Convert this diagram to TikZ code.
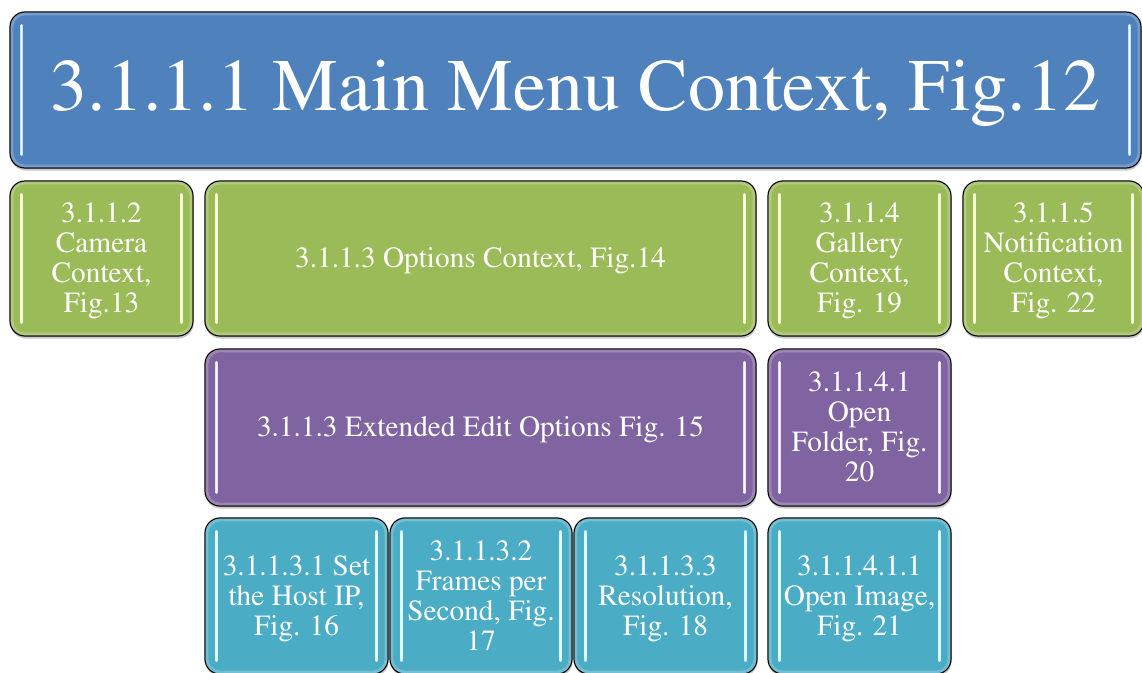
\documentclass[tikz,border=0pt]{standalone}
\usepackage[T1]{fontenc}
\usepackage{times}
\usetikzlibrary{shadows}

% fills and their edge highlights
\definecolor{tblue}{HTML}{4F81BD}
\definecolor{tbluehl}{HTML}{C4E2FF}
\definecolor{tgreen}{HTML}{9BBB59}
\definecolor{tgreenhl}{HTML}{F2FFC0}
\definecolor{tpurple}{HTML}{8064A2}
\definecolor{tpurplehl}{HTML}{EBDDFF}
\definecolor{tcyan}{HTML}{4BACC6}
\definecolor{tcyanhl}{HTML}{CFF8FF}

\tikzset{
  tile/.style={draw=black, line width=1.2pt, rounded corners=15pt,
    text=white, align=center, inner sep=0pt,
    font=\fontsize{29.3}{30}\selectfont,
    drop shadow={shadow xshift=0.5pt, shadow yshift=-2.5pt, opacity=0.3, fill=black!70}},
  glint/.style={line width=3.2pt, line cap=round, draw=#1,
    postaction={draw=white, line width=1pt}},
  rim/.style={draw=white, opacity=0.22, line width=3pt, rounded corners=13pt},
}

% name, x1, y1, x2, y2, colour, text
\newcommand\tile[7]{%
  \node[tile, fill=#6, minimum width={(#4-#2)*1pt}, minimum height={(#5-#3)*1pt}]
    (#1) at ({(#2+#4)/2},{(#3+#5)/2})
    {\raisebox{-3pt}[\height][\depth]{\begin{tabular}{@{}c@{}}#7\end{tabular}}};
  \draw[rim] ([shift={(2.5pt,-2.5pt)}]#1.north west) rectangle ([shift={(-2.5pt,2.5pt)}]#1.south east);
  \draw[glint=#6hl] ([xshift=12pt,yshift=-14pt]#1.north west) -- ([xshift=12pt,yshift=14pt]#1.south west);
  \draw[glint=#6hl] ([xshift=-12pt,yshift=-14pt]#1.north east) -- ([xshift=-12pt,yshift=14pt]#1.south east);
}

\begin{document}
\begin{tikzpicture}[x=1pt,y=-1pt]
  \clip (0,0) rectangle (1142,672);
  \fill[white] (0,0) rectangle (1142,672);

  % top level
  \tile{main}{10}{12}{1141}{168}{tblue}{\fontsize{74}{80}\selectfont 3.1.1.1 Main Menu Context, Fig.12}

  % second level
  \tile{camera}{10}{181}{193}{336}{tgreen}{3.1.1.2\\Camera\\Context,\\Fig.13}
  \tile{options}{205}{181}{756}{336}{tgreen}{3.1.1.3 Options Context, Fig.14}
  \tile{gallery}{768}{181}{951}{336}{tgreen}{3.1.1.4\\Gallery\\Context,\\Fig. 19}
  \tile{notify}{963}{181}{1144}{336}{tgreen}{3.1.1.5\\Notification\\Context,\\Fig. 22}

  % third level
  \tile{extended}{205}{349}{756}{506}{tpurple}{3.1.1.3 Extended Edit Options Fig. 15}
  \tile{folder}{768}{349}{951}{506}{tpurple}{3.1.1.4.1\\Open\\Folder, Fig.\\20}

  % fourth level
  \tile{hostip}{205}{518}{388}{674}{tcyan}{3.1.1.3.1 Set\\the Host IP,\\Fig. 16}
  \tile{fps}{390}{518}{572}{674}{tcyan}{3.1.1.3.2\\Frames per\\Second, Fig.\\17}
  \tile{resolution}{574}{518}{757}{674}{tcyan}{3.1.1.3.3\\Resolution,\\Fig. 18}
  \tile{image}{768}{518}{951}{674}{tcyan}{3.1.1.4.1.1\\Open Image,\\Fig. 21}
\end{tikzpicture}
\end{document}
